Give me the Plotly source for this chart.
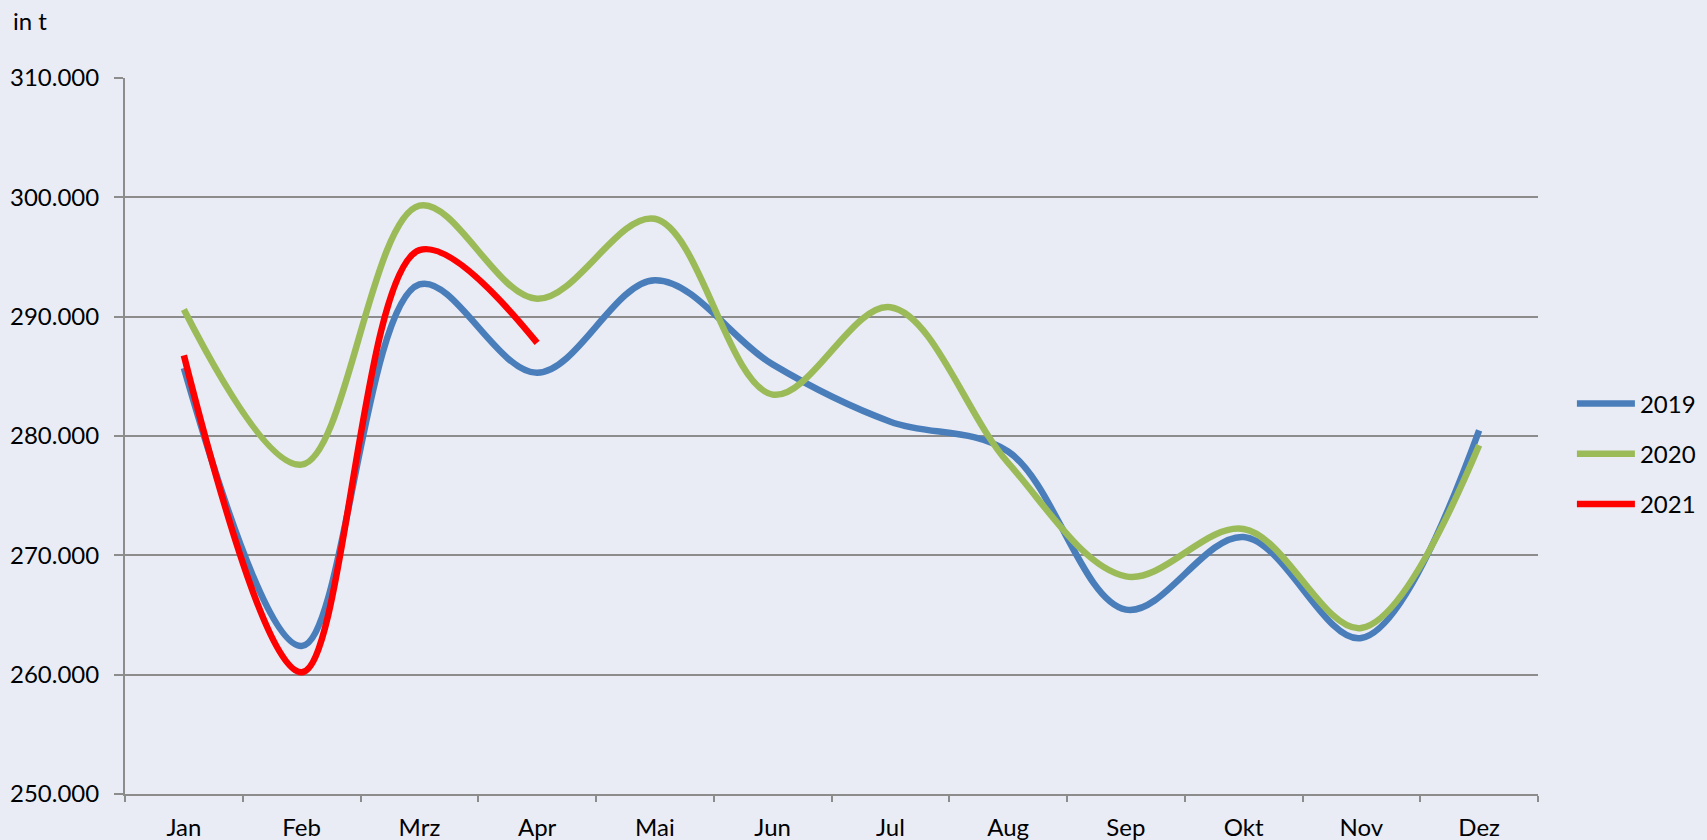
import plotly.graph_objects as go

months = ["Jan", "Feb", "Mrz", "Apr", "Mai", "Jun", "Jul", "Aug", "Sep", "Okt", "Nov", "Dez"]
values_2019 = [285700, 262400, 292700, 285300, 293050, 286000, 281200, 278700, 265450, 271540, 263070, 280480]
values_2020 = [290600, 277600, 299300, 291500, 298200, 283470, 290790, 277750, 268240, 272210, 263910, 279220]
values_2021 = [286760, 260200, 295570, 287800]

series = [
    ("2019", values_2019, "#4A7EBB"),
    ("2020", values_2020, "#9BBB59"),
    ("2021", values_2021, "#FF0000"),
]

BG = "#E9ECF5"
GRID = "#8C8C8C"
FONT = "Lato"
FSIZE = 24

fig = go.Figure()
for name, vals, color in series:
    fig.add_trace(
        go.Scatter(
            x=months[: len(vals)],
            y=vals,
            name=name,
            legendgroup=name,
            mode="lines",
            line=dict(color=color, width=6.5, shape="spline", smoothing=1),
        )
    )

fig.add_annotation(
    x=-0.0806,
    y=1.104,
    xref="paper",
    yref="paper",
    xanchor="left",
    yanchor="top",
    text="in t",
    showarrow=False,
    font=dict(family=FONT, size=FSIZE, color="black"),
)

fig.update_layout(
    width=1707,
    height=840,
    paper_bgcolor=BG,
    plot_bgcolor=BG,
    separators=",.",
    margin=dict(l=125, r=169, t=78, b=46, autoexpand=False),
    font=dict(family=FONT, size=FSIZE, color="black"),
    legend=dict(
        x=1.024,
        y=0.475,
        xanchor="left",
        yanchor="middle",
        bgcolor="rgba(0,0,0,0)",
        traceorder="grouped",
        tracegroupgap=16,
        itemwidth=58,
        font=dict(family=FONT, size=FSIZE, color="black"),
    ),
    xaxis=dict(
        type="category",
        categoryorder="array",
        categoryarray=months,
        range=[-0.5, 11.5],
        automargin=False,
        showgrid=False,
        showline=True,
        linecolor=GRID,
        linewidth=2,
        ticks="outside",
        tickson="boundaries",
        ticklen=6,
        tickcolor=GRID,
        tickwidth=1.5,
        ticklabelstandoff=11,
        zeroline=False,
    ),
    yaxis=dict(
        range=[250000, 310000],
        dtick=10000,
        tickformat=",d",
        automargin=False,
        showgrid=True,
        gridcolor=GRID,
        gridwidth=1.5,
        showline=True,
        linecolor=GRID,
        linewidth=2,
        ticks="outside",
        ticklen=9,
        tickcolor=GRID,
        tickwidth=1.5,
        ticklabelstandoff=10,
        zeroline=False,
    ),
)

# the page body has a default 8px margin; drop it so the figure fills the window
fig.write_html(
    "out.html",
    config={"displayModeBar": False},
    post_script=f"document.body.style.margin='0';document.body.style.background='{BG}';",
)
